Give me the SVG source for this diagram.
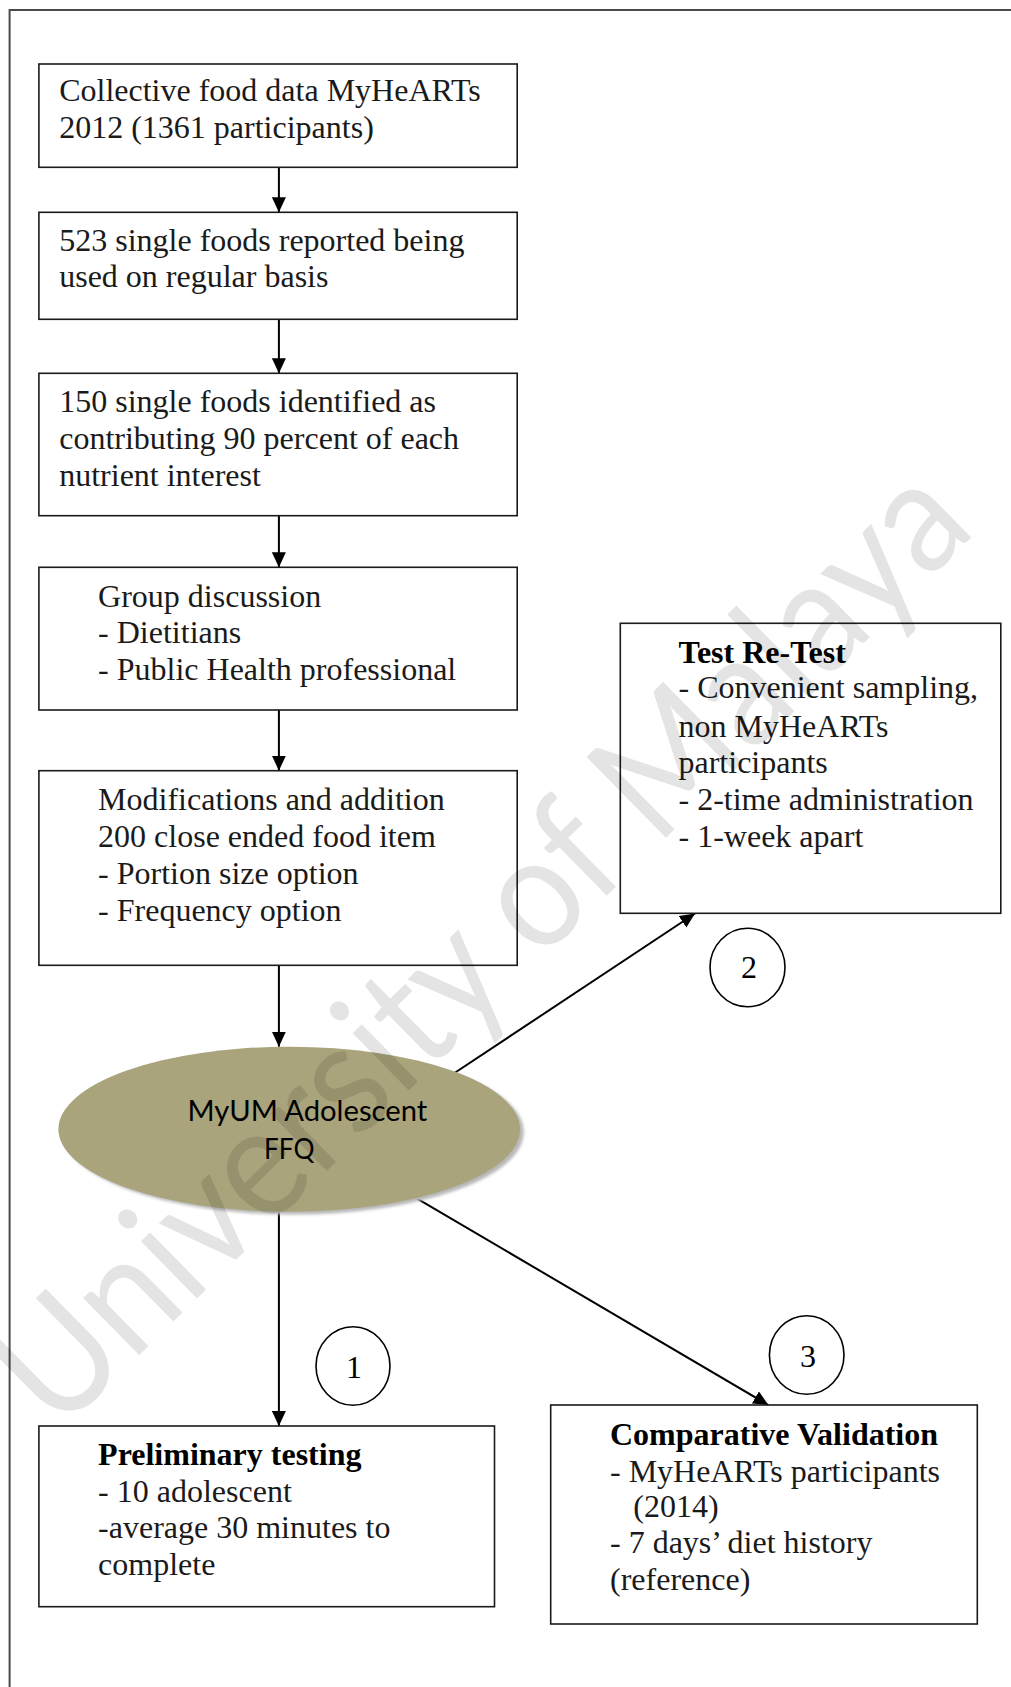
<svg xmlns="http://www.w3.org/2000/svg" width="1011" height="1687" viewBox="0 0 1011 1687">
  <style>
    .box { fill: #ffffff; stroke: #1a1a1a; stroke-width: 1.6; }
    .txt { font-family: "Liberation Serif", "Times New Roman", serif; font-size: 32px; fill: #1a1a1a; }
    .bold { font-weight: bold; fill: #000000; }
    .num { font-family: "Liberation Serif", "Times New Roman", serif; font-size: 32px; fill: #000000; text-anchor: middle; }
    .badge { fill: #ffffff; stroke: #000000; stroke-width: 1.6; }
    .conn { stroke: #000000; stroke-width: 2; fill: none; marker-end: url(#head); }
    .frame { stroke: #4a4a4a; stroke-width: 2; fill: none; }
    .sans { font-family: Lato, "Open Sans", "Liberation Sans", sans-serif; font-size: 28.5px; fill: #000000; }
  </style>
  <defs>
    <marker id="head" markerUnits="userSpaceOnUse" markerWidth="16" markerHeight="14" refX="15" refY="7" orient="auto">
      <path d="M0,0 L15,7 L0,14 Z" fill="#000000"/>
    </marker>
    <filter id="soft" x="-10%" y="-10%" width="120%" height="130%">
      <feGaussianBlur stdDeviation="1.5"/>
    </filter>
  </defs>

  <rect width="1011" height="1687" fill="#ffffff"/>

  <!-- page frame: top and left edges only -->
  <path class="frame" d="M9.6,1687 L9.6,10 L1011,10"/>

  <!-- connectors -->
  <g id="connectors">
    <line class="conn" x1="278.9" y1="156" x2="278.9" y2="212.3"/>
    <line class="conn" x1="278.9" y1="319.3" x2="278.9" y2="373.3"/>
    <line class="conn" x1="278.9" y1="515.7" x2="278.9" y2="567.3"/>
    <line class="conn" x1="278.9" y1="710" x2="278.9" y2="770.7"/>
    <line class="conn" x1="278.9" y1="965.3" x2="278.9" y2="1046.7"/>
    <line class="conn" x1="278.9" y1="1211.7" x2="278.9" y2="1426"/>
    <line class="conn" x1="453" y1="1074" x2="695" y2="913.5"/>
    <line class="conn" x1="416.7" y1="1198.3" x2="768.3" y2="1405"/>
  </g>

  <g id="node-collective">
    <rect class="box" x="38.9" y="64" width="478.3" height="103.3"/>
    <text class="txt" x="59.2" y="100.7">Collective food data MyHeARTs</text>
    <text class="txt" x="59.2" y="138.3">2012 (1361 participants)</text>
  </g>

  <g id="node-single-foods">
    <rect class="box" x="38.9" y="212.3" width="478.3" height="107"/>
    <text class="txt" x="59.2" y="250.7">523 single foods reported being</text>
    <text class="txt" x="59.2" y="287.3">used on regular basis</text>
  </g>

  <g id="node-identified">
    <rect class="box" x="38.9" y="373.3" width="478.3" height="142.4"/>
    <text class="txt" x="59.2" y="411.7">150 single foods identified as</text>
    <text class="txt" x="59.2" y="449">contributing 90 percent of each</text>
    <text class="txt" x="59.2" y="485.7">nutrient interest</text>
  </g>

  <g id="node-group-discussion">
    <rect class="box" x="38.9" y="567.3" width="478.3" height="142.7"/>
    <text class="txt" x="98.1" y="606.7">Group discussion</text>
    <text class="txt" x="98.1" y="643.3">- Dietitians</text>
    <text class="txt" x="98.1" y="680">- Public Health professional</text>
  </g>

  <g id="node-modifications">
    <rect class="box" x="38.9" y="770.7" width="478.3" height="194.6"/>
    <text class="txt" x="98.1" y="810">Modifications and addition</text>
    <text class="txt" x="98.1" y="846.7">200 close ended food item</text>
    <text class="txt" x="98.1" y="884">- Portion size option</text>
    <text class="txt" x="98.1" y="921">- Frequency option</text>
  </g>

  <g id="node-ffq">
    <ellipse cx="293" cy="1132" rx="230.8" ry="82.5" fill="#b8b8b8" filter="url(#soft)"/>
    <ellipse cx="289.2" cy="1129.2" rx="230.8" ry="82.5" fill="#a9a47c"/>
    <text class="sans" x="187.5" y="1120.5" textLength="239.7" lengthAdjust="spacingAndGlyphs">MyUM Adolescent</text>
    <text class="sans" x="264" y="1159" textLength="50.5" lengthAdjust="spacingAndGlyphs">FFQ</text>
  </g>

  <g id="node-test-retest">
    <rect class="box" x="620.3" y="623.3" width="380.5" height="290"/>
    <text class="txt bold" x="678.5" y="662.7">Test Re-Test</text>
    <text class="txt" x="678.5" y="698.3">- Convenient sampling,</text>
    <text class="txt" x="678.5" y="736.7">non MyHeARTs</text>
    <text class="txt" x="678.5" y="772.7">participants</text>
    <text class="txt" x="678.5" y="810">- 2-time administration</text>
    <text class="txt" x="678.5" y="846.7">- 1-week apart</text>
  </g>

  <g id="badge-2">
    <ellipse class="badge" cx="747.5" cy="967.5" rx="37.5" ry="39.2"/>
    <text class="num" x="749" y="978.3">2</text>
  </g>

  <g id="badge-1">
    <ellipse class="badge" cx="353" cy="1366" rx="37" ry="39.3"/>
    <text class="num" x="354" y="1378.3">1</text>
  </g>

  <g id="badge-3">
    <ellipse class="badge" cx="806.7" cy="1355" rx="37.3" ry="39.3"/>
    <text class="num" x="808" y="1366.7">3</text>
  </g>

  <g id="node-preliminary">
    <rect class="box" x="38.9" y="1426" width="455.6" height="180.7"/>
    <text class="txt bold" x="98.1" y="1465">Preliminary testing</text>
    <text class="txt" x="98.1" y="1501.7">- 10 adolescent</text>
    <text class="txt" x="98.1" y="1538.3">-average 30 minutes to</text>
    <text class="txt" x="98.1" y="1575">complete</text>
  </g>

  <g id="node-comparative">
    <rect class="box" x="550.7" y="1405" width="426.6" height="219"/>
    <text class="txt bold" x="610" y="1445">Comparative Validation</text>
    <text class="txt" x="610" y="1481.7">- MyHeARTs participants</text>
    <text class="txt" x="633.3" y="1516.7">(2014)</text>
    <text class="txt" x="610" y="1553.3">- 7 days’ diet history</text>
    <text class="txt" x="610" y="1590">(reference)</text>
  </g>

  <!-- diagonal watermark over the page -->
  <g id="watermark" opacity="0.1">
    <text x="0" y="0" transform="translate(58,1435) rotate(-44.5)" font-family="Lato, 'Open Sans', sans-serif" font-size="158" fill="#000000" textLength="1290" lengthAdjust="spacingAndGlyphs">University of Malaya</text>
  </g>
</svg>
